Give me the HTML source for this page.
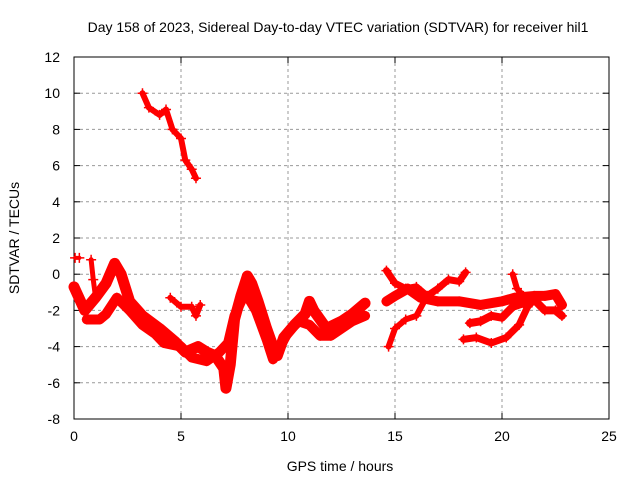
<!DOCTYPE html>
<html><head><meta charset="utf-8"><style>
body{margin:0;background:#fff;}
text{font-family:"Liberation Sans",sans-serif;font-size:14px;fill:#000;}
</style></head><body>
<svg id="chart" width="640" height="480" xmlns="http://www.w3.org/2000/svg">
<rect width="640" height="480" fill="#fff"/>
<g id="grid"></g>
<g id="axes"></g>
<g id="series"></g>
<text x="338" y="32" text-anchor="middle">Day 158 of 2023, Sidereal Day-to-day VTEC variation (SDTVAR) for receiver hil1</text>
<text x="340" y="471" text-anchor="middle">GPS time / hours</text>
<text transform="translate(19,238) rotate(-90)" text-anchor="middle">SDTVAR / TECUs</text>
</svg>
<script>
const xTicks=[0,5,10,15,20,25];
const yTicks=[-8,-6,-4,-2,0,2,4,6,8,10,12];
const traceA=[[0,-0.7],[0.5,-2],[1,-1.3],[1.5,-0.5],[1.9,0.6],[2.2,0],[2.6,-1.5],[3.2,-2.3],[4,-3],[4.7,-3.7],[5.2,-4.3],[5.8,-4],[6.2,-4.3],[6.6,-4.5],[7,-5.2],[7.1,-6.3],[7.3,-5],[7.5,-2.5],[7.8,-1.2],[8.1,-0.1],[8.3,-0.5],[8.6,-1.5],[9,-3],[9.3,-4],[9.5,-4.5],[9.8,-3.5],[10.3,-2.8],[10.8,-2.2],[11,-1.5],[11.2,-2],[11.8,-3],[12.5,-2.6],[13,-2.2],[13.6,-1.6]];
const traceB=[[0.6,-2.5],[1.2,-2.5],[1.5,-2.2],[2,-1.3],[2.6,-2],[3.2,-2.8],[3.8,-3.3],[4.2,-3.8],[5,-4],[5.5,-4.6],[6.2,-4.8],[6.8,-4.3],[7.2,-3.8],[7.5,-2.3],[8,-1],[8.5,-2],[9,-3.6],[9.3,-4.7],[9.5,-4.3],[10,-3.2],[10.5,-2.6],[11,-2.8],[11.5,-3.4],[12,-3.4],[12.5,-3],[13,-2.6],[13.6,-2.3]];
const traceC=[[4.5,-1.3],[5,-1.8],[5.5,-1.8],[5.7,-2.3],[5.9,-1.7]];
const traceD=[[3.2,10],[3.5,9.2],[4,8.8],[4.3,9.1],[4.6,8],[5,7.5],[5.2,6.3],[5.5,5.8],[5.7,5.3]];
const traceK=[[0.05,0.9],[0.25,0.9]];
const traceL=[[0.8,0.8],[0.9,-0.3],[1,-1.2]];
const traceE=[[14.6,0.2],[15,-0.5],[15.5,-0.8],[16,-0.7],[16.5,-1.2],[17,-0.8],[17.5,-0.3],[18,-0.4],[18.3,0.1]];
const traceF=[[14.6,-1.5],[15,-1.2],[15.6,-0.8],[16.2,-1.3],[17,-1.5],[18,-1.5],[19,-1.7],[20,-1.5],[20.6,-1.3],[21.5,-1.2],[22,-1.2],[22.5,-1.1],[22.8,-1.7]];
const traceG=[[14.7,-4],[15,-3],[15.5,-2.5],[16,-2.3],[16.5,-1.2],[17,-0.8]];
const traceH=[[18.5,-2.7],[19,-2.6],[19.5,-2.3],[20,-2.4],[20.5,-1.8],[21,-1.6],[21.5,-1.4],[22,-2],[22.5,-2],[22.8,-2.3]];
const traceI=[[18.2,-3.6],[18.8,-3.5],[19.5,-3.8],[20.2,-3.5],[20.8,-2.8],[21.2,-1.8],[21.6,-1.3]];
const traceJ=[[20.5,0],[20.7,-0.8],[21,-1.2]];
const traces=[[traceA,11],[traceB,10],[traceC,6],[traceD,6],[traceK,4],[traceL,5],[traceE,7],[traceF,10],[traceG,6],[traceH,8],[traceI,7],[traceJ,6]];
const X0=74,X1=609,Y0=419,Y1=57;
const xs=v=>X0+(v-0)/(25-0)*(X1-X0);
const ys=v=>Y0-(v+8)/20*(Y0-Y1);
const NS="http://www.w3.org/2000/svg";
const grid=document.getElementById('grid'),axes=document.getElementById('axes'),ser=document.getElementById('series');
function mk(tag,at,p){const e=document.createElementNS(NS,tag);for(const k in at)e.setAttribute(k,at[k]);p.appendChild(e);return e;}
xTicks.forEach(t=>{const x=xs(t);
 if(t>0&&t<25){const g=mk('line',{x1:x,x2:x,y1:Y1,y2:Y0,stroke:'#999','stroke-dasharray':'3,3'},grid);
 
 }
 const l=mk('text',{x:x,y:Y0+22,'text-anchor':'middle'},axes);l.textContent=t;
 
 
 mk('line',{x1:x,x2:x,y1:Y0,y2:Y0-6,stroke:'#000'},axes);mk('line',{x1:x,x2:x,y1:Y1,y2:Y1+6,stroke:'#000'},axes);});
yTicks.forEach(t=>{const y=ys(t);
 if(t>-8&&t<12){const g=mk('line',{x1:X0,x2:X1,y1:y,y2:y,stroke:'#999','stroke-dasharray':'3,3'},grid);
 
 }
 const l=mk('text',{x:X0-14,y:y+5,'text-anchor':'end'},axes);l.textContent=t;
 
 
 mk('line',{x1:X0,x2:X0+6,y1:y,y2:y,stroke:'#000'},axes);mk('line',{x1:X1,x2:X1-6,y1:y,y2:y,stroke:'#000'},axes);});
mk('rect',{x:X0,y:Y1,width:X1-X0,height:Y0-Y1,fill:'none',stroke:'#000'},axes);
traces.forEach(([tr,w],i)=>{
 const p=mk('polyline',{points:tr.map(d=>xs(d[0])+','+ys(d[1])).join(' '),fill:'none',stroke:'#f00','stroke-width':w,'stroke-linejoin':'round','stroke-linecap':'round'},ser);
 
 
 tr.forEach(d=>{const x=xs(d[0]),y=ys(d[1]);
  const m=mk('path',{d:`M${x-5},${y}H${x+5}M${x},${y-5}V${y+5}`,stroke:'#f00','stroke-width':1.5},ser);
  
  });
});
</script>
</body></html>
